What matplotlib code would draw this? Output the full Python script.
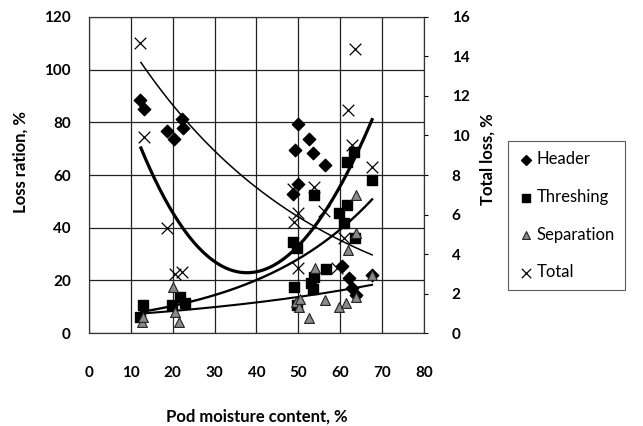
import numpy as np
import matplotlib
matplotlib.use("Agg")
import matplotlib.pyplot as plt

plt.rcParams['font.family'] = ['Lato', 'DejaVu Sans']

# header loss (left axis)
header_x = [12.1, 13.1, 18.6, 20.2, 22.1, 22.4, 49.8, 52.6, 49.3, 53.4, 56.4, 49.8, 48.6,
            60.4, 62.0, 62.9, 63.8, 67.6]
header_y = [88.5, 84.9, 76.7, 73.7, 81.3, 77.9, 79.4, 73.7, 69.5, 68.4, 63.8, 56.6, 52.8,
            25.4, 20.9, 17.1, 14.4, 22.0]

# threshing loss (left axis)
thresh_x = [12.9, 12.1, 19.8, 21.7, 22.9, 48.6, 49.6, 49.0, 49.6, 53.4, 53.8, 56.7, 53.8,
            59.8, 61.5, 61.0, 63.6, 61.5, 63.2, 67.6, 53.0]
thresh_y = [10.6, 6.1, 10.6, 13.7, 11.4, 34.5, 32.3, 17.5, 10.6, 16.7, 21.3, 24.3, 52.4,
            45.6, 48.6, 41.8, 36.0, 65.0, 68.7, 58.0, 19.0]

# separation loss (left axis)
sep_x = [12.6, 13.0, 20.0, 21.4, 20.5, 49.5, 50.2, 52.6, 54.0, 56.4, 59.8, 61.4, 63.8,
         67.6, 61.9, 63.8, 63.8, 50.5]
sep_y = [4.2, 6.0, 17.5, 4.2, 8.0, 11.8, 9.9, 5.7, 24.7, 12.5, 9.9, 11.4, 13.7,
         22.0, 31.5, 38.0, 52.4, 13.0]

# total loss (right axis)
total_x = [12.1, 13.1, 18.6, 20.5, 22.1, 48.6, 53.8, 56.2, 49.8, 49.0, 61.0, 49.8, 59.3,
           61.9, 62.9, 67.6, 63.6]
total_y = [14.7, 9.9, 5.3, 3.0, 3.1, 7.3, 7.4, 6.2, 6.1, 5.6, 4.8, 3.3, 3.3,
           11.3, 9.5, 8.4, 14.4]

# trend lines
trend_range = (12.4, 67.6)
header_exp = (135.8, -0.0225)
thresh_exp = (5.27, 0.0335)
sep_exp = (6.0, 0.0165)
total_poly = [-2.13e-5, 0.00917, 0.0422, 3.1]  # in (x - 40)

fig = plt.figure(figsize=(6.43, 4.26), dpi=100)
ax = fig.add_axes([0.1384, 0.2183, 0.5210, 0.7418])
ax2 = ax.twinx()

xs = np.linspace(trend_range[0], trend_range[1], 200)

ax.scatter(header_x, header_y, marker='D', s=40, color='black', zorder=3, label='Header')
ax.scatter(thresh_x, thresh_y, marker='s', s=55, color='black', zorder=3, label='Threshing')
ax.scatter(sep_x, sep_y, marker='^', s=50, facecolor='#8a8a8a', edgecolor='#222222',
           linewidth=0.8, zorder=3, label='Separation')
ax2.scatter(total_x, total_y, marker='x', s=70, color='black', linewidth=0.9, zorder=3,
            label='Total')

ax.plot(xs, header_exp[0] * np.exp(header_exp[1] * xs), color='black', lw=1.1, zorder=2)
ax.plot(xs, thresh_exp[0] * np.exp(thresh_exp[1] * xs), color='black', lw=1.7, zorder=2)
ax.plot(xs, sep_exp[0] * np.exp(sep_exp[1] * xs), color='black', lw=1.5, zorder=2)
ax2.plot(xs, np.polyval(total_poly, xs - 40), color='black', lw=2.3, zorder=2)

ax.set_xlim(0, 80)
ax.set_ylim(0, 120)
ax2.set_ylim(0, 16)
ax.set_xticks(range(0, 81, 10))
ax.set_yticks(range(0, 121, 20))
ax2.set_yticks(range(0, 17, 2))

ax.grid(True, color='#222222', lw=0.9)
ax.set_axisbelow(True)
ax.tick_params(axis='x', length=0, pad=24, labelsize=11)
ax.tick_params(axis='y', length=0, pad=13, labelsize=11)
ax2.tick_params(axis='y', length=3, direction='out', pad=17, labelsize=11)
for lab in ax.get_xticklabels() + ax.get_yticklabels() + ax2.get_yticklabels():
    lab.set_fontweight('bold')
for sp in ax.spines.values():
    sp.set_color('#333333')
    sp.set_linewidth(0.8)
for sp in ax2.spines.values():
    sp.set_color('#333333')
    sp.set_linewidth(0.8)

ax.set_xlabel('Pod moisture content, %', fontsize=12, fontweight='bold')
ax.xaxis.set_label_coords(0.5, -0.24)
ax.set_ylabel('Loss ration, %', fontsize=12, fontweight='bold')
ax.yaxis.set_label_coords(-0.18, 0.54)
ax2.set_ylabel('Total loss, %', fontsize=12, fontweight='bold')
ax2.yaxis.set_label_coords(1.165, 0.55)

h1, l1 = ax.get_legend_handles_labels()
h2, l2 = ax2.get_legend_handles_labels()
leg = fig.legend(h1 + h2, l1 + l2, loc='upper left', bbox_to_anchor=(0.79, 0.668),
                 frameon=True, fancybox=False, edgecolor='#333333', fontsize=12,
                 labelspacing=1.3, handletextpad=0.1, handlelength=1.0,
                 borderaxespad=0, borderpad=0.6, scatterpoints=1, markerscale=0.8)
leg.get_frame().set_linewidth(0.8)

fig.savefig('out.png', dpi=100)
